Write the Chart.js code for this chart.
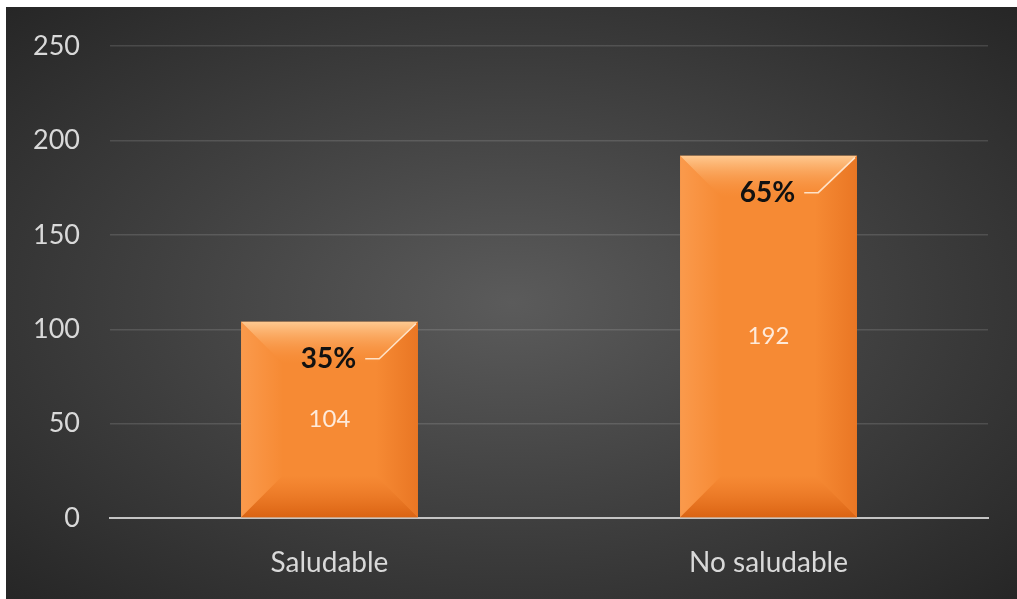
<!DOCTYPE html>
<html>
<head>
<meta charset="utf-8">
<script src="https://cdn.jsdelivr.net/npm/chart.js@4"></script>
<style>
  html, body { margin: 0; padding: 0; background: #fff; overflow: hidden; width: 1017px; height: 599px; }
  #panel {
    position: absolute; left: 6px; top: 7px; right: 0; bottom: 0;
    background: radial-gradient(ellipse at 50% 50%, #5b5b5b 0%, #404040 50%, #262626 100%);
  }
  #chart { position: absolute; left: 6px; top: 0; display: block; }
</style>
</head>
<body>
<div id="panel"></div>
<canvas id="chart" width="1011" height="599"></canvas>
<script>
const categories = ['Saludable', 'No saludable'];
const counts = [104, 192];
const yTicks = [0, 50, 100, 150, 200, 250];

const total = counts.reduce((a, b) => a + b, 0);
const percentLabels = counts.map(v => Math.round(v / total * 100) + '%');

const FONT = 'Lato, "Noto Sans", sans-serif';

// bevel look + data labels on top of the plain bars
const bevelPlugin = {
    id: 'bevel',
    afterDatasetsDraw(chart) {
        const c = chart.ctx;
        const meta = chart.getDatasetMeta(0);
        meta.data.forEach((bar, i) => {
            const l = bar.x - bar.width / 2, r = bar.x + bar.width / 2;
            const t = bar.y, b = bar.base;
            const d = 42;
            c.save();
            // top
            let g = c.createLinearGradient(0, t, 0, t + d);
            g.addColorStop(0, 'rgba(255,205,150,0.95)');
            g.addColorStop(1, 'rgba(250,150,70,0.0)');
            c.fillStyle = g;
            c.beginPath();
            c.moveTo(l, t); c.lineTo(r, t); c.lineTo(r - d, t + d); c.lineTo(l + d, t + d); c.closePath();
            c.fill();
            // bottom
            g = c.createLinearGradient(0, b, 0, b - d);
            g.addColorStop(0, 'rgba(215,95,15,0.9)');
            g.addColorStop(1, 'rgba(230,110,30,0.0)');
            c.fillStyle = g;
            c.beginPath();
            c.moveTo(l, b); c.lineTo(r, b); c.lineTo(r - d, b - d); c.lineTo(l + d, b - d); c.closePath();
            c.fill();
            // left
            g = c.createLinearGradient(l, 0, l + d, 0);
            g.addColorStop(0, 'rgba(255,170,100,0.5)');
            g.addColorStop(1, 'rgba(255,170,100,0.0)');
            c.fillStyle = g;
            c.beginPath();
            c.moveTo(l, t); c.lineTo(l + d, t + d); c.lineTo(l + d, b - d); c.lineTo(l, b); c.closePath();
            c.fill();
            // right
            g = c.createLinearGradient(r, 0, r - d, 0);
            g.addColorStop(0, 'rgba(225,105,25,0.6)');
            g.addColorStop(1, 'rgba(225,105,25,0.0)');
            c.fillStyle = g;
            c.beginPath();
            c.moveTo(r, t); c.lineTo(r - d, t + d); c.lineTo(r - d, b - d); c.lineTo(r, b); c.closePath();
            c.fill();

            // value label
            c.textAlign = 'center';
            c.textBaseline = 'middle';
            c.font = '24px ' + FONT;
            c.fillStyle = 'rgba(255,255,255,0.82)';
            c.fillText(counts[i], bar.x, (t + b) / 2);

            // percent label with leader line
            const py = t + 37;
            c.font = 'bold 28px ' + FONT;
            c.fillStyle = '#111';
            c.fillText(percentLabels[i], bar.x - 1, py);
            const tw = c.measureText(percentLabels[i]).width;
            c.strokeStyle = 'rgba(255,235,215,0.9)';
            c.lineWidth = 1.5;
            c.beginPath();
            c.moveTo(bar.x + tw / 2 + 8, py);
            c.lineTo(bar.x + tw / 2 + 22, py);
            c.lineTo(r - 2, t + 2);
            c.stroke();
            c.restore();
        });
    }
};

new Chart(document.getElementById('chart'), {
    type: 'bar',
    data: {
        labels: categories,
        datasets: [{
            data: counts,
            backgroundColor: '#f68a34',
            borderWidth: 0,
            categoryPercentage: 1,
            barPercentage: 0.403
        }]
    },
    options: {
        responsive: false,
        animation: false,
        layout: { padding: { top: 46, right: 29, left: 0, bottom: 0 } },
        plugins: { legend: { display: false }, tooltip: { enabled: false } },
        scales: {
            x: {
                grid: { display: false, drawTicks: false },
                border: { display: true, color: '#c4c4c4', width: 2 },
                ticks: { color: '#d9d9d9', font: { family: FONT, size: 28 }, padding: 28 },
                afterFit: s => { s.height = 81; }
            },
            y: {
                min: 0,
                max: 250,
                afterBuildTicks: s => { s.ticks = yTicks.map(v => ({ value: v })); },
                grid: { color: 'rgba(255,255,255,0.13)', lineWidth: 1.5, drawTicks: false },
                border: { display: false },
                ticks: { color: '#d9d9d9', font: { family: FONT, size: 27 }, padding: 30 },
                afterFit: s => { s.width = 104; }
            }
        }
    },
    plugins: [bevelPlugin]
});
</script>
</body>
</html>
